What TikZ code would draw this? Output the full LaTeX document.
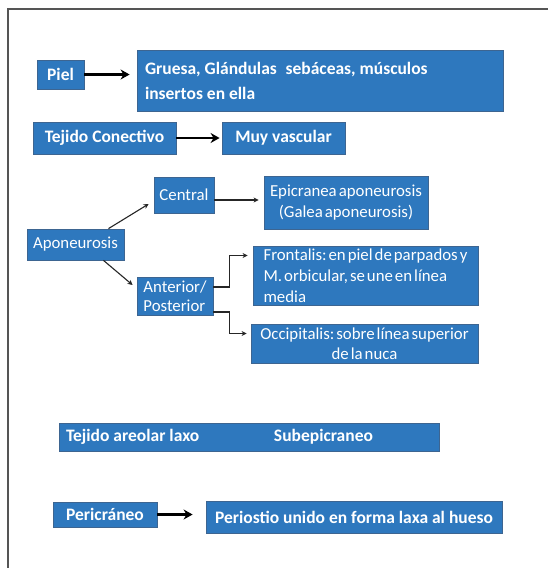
\documentclass[tikz,border=0pt]{standalone}
\usepackage{fontspec}
\setmainfont{Carlito}
\usetikzlibrary{arrows.meta}

\definecolor{boxblue}{HTML}{2E78BE}
\definecolor{boxline}{HTML}{3D6591}
\definecolor{framegray}{HTML}{555555}

\newcommand\boxbold{\fontsize{17.5}{25}\selectfont\bfseries\frenchspacing}
\newcommand\boxthin{\fontsize{16.8}{19.5}\selectfont\fontdimen2\font=0.12em\relax\frenchspacing}
\newcommand\boxthinwide{\fontsize{16.8}{21}\selectfont\fontdimen2\font=0.12em\relax\frenchspacing}

\tikzset{
  box/.style={draw=boxline, fill=boxblue, text=white, line width=0.8pt, inner sep=0pt},
  boldbox/.style={box, font=\boxbold},
  thinbox/.style={box, font=\boxthin},
  fat/.style={-{Stealth[length=9pt,width=10pt]}, line width=2.6pt},
  slim/.style={-{Stealth[length=5pt,width=5pt]}, line width=1.1pt, draw=black!85},
}

\begin{document}
\begin{tikzpicture}[x=1pt,y=-1pt]
\useasboundingbox (0,0) rectangle (548,568);
\fill[white] (0,0) rectangle (548,568);
\draw[framegray, line width=1.5pt] (548,9) -- (8,9) -- (8,568);

% Piel
\node[boldbox, minimum width=47, minimum height=29] (piel) at (60.5,74.5) {Piel};
\node[boldbox, minimum width=366, minimum height=61, text width=350, align=left] (gruesa) at (320,80.5)
  {\spaceskip=0pt\relax Gruesa, Glándulas\enspace sebáceas, músculos\\insertos en ella};
\draw[fat] (piel) -- ([xshift=-7pt]gruesa.west |- piel.east);

% Tejido conectivo
\node[boldbox, minimum width=143, minimum height=32] (conectivo) at (104.5,138) {Tejido Conectivo};
\node[boldbox, minimum width=123, minimum height=32] (vascular) at (283.5,138) {Muy vascular};
\draw[fat, shorten >=2pt] (conectivo) -- (vascular);

% Aponeurosis
\node[thinbox, minimum width=97, minimum height=31] (aponeurosis) at (75.5,244.5) {Aponeurosis};
\node[thinbox, minimum width=60, minimum height=36] (central) at (184,195) {Central};
\node[thinbox, minimum width=164, minimum height=53, align=center, font=\boxthinwide] (epicranea) at (346,202.5)
  {Epicranea aponeurosis\\(Galea aponeurosis)};
\node[thinbox, minimum width=76, minimum height=38, align=left] (anterior) at (175,296)
  {Anterior/\\Posterior};
\node[thinbox, minimum width=225, minimum height=59, align=left, font=\boxthinwide] (frontalis) at (365.5,275.5)
  {Frontalis: en piel de parpados y\\M. orbicular, se une en línea\\media};
\node[thinbox, minimum width=227, minimum height=39, align=center] (occipitalis) at (364.5,343.5)
  {Occipitalis: sobre línea superior\\de la nuca};

\draw[slim] ([xshift=33pt]aponeurosis.north) -- ([xshift=-5pt,yshift=-9pt]central.west);
\draw[slim] ([xshift=28pt]aponeurosis.south) -- ([xshift=-4pt,yshift=11pt]anterior.west);
\draw[slim, shorten >=5pt] ([yshift=-5pt]central.east) -- ([yshift=-5pt]central.east -| epicranea.west);
\draw[slim, shorten >=5pt] ([yshift=9pt]anterior.east) -- ++(16,0) |- ([yshift=20pt]frontalis.west);
\draw[slim, shorten >=4pt] ([yshift=-16pt]anterior.east) -- ++(16,0) |- ([yshift=10pt]occipitalis.west);

% Tejido areolar laxo
\node[boldbox, minimum width=380, minimum height=28] (areolar) at (249,437)
  {\makebox[366pt][l]{\makebox[208pt][l]{Tejido areolar laxo}Subepicraneo}};

% Pericraneo
\node[boldbox, minimum width=104, minimum height=25] (pericraneo) at (105,514.5) {Pericráneo};
\node[boldbox, minimum width=296, minimum height=32] (periostio) at (354,517) {Periostio unido en forma laxa al hueso};
\draw[fat] (pericraneo) -- ([xshift=-13pt]periostio.west |- pericraneo.east);
\end{tikzpicture}
\end{document}
